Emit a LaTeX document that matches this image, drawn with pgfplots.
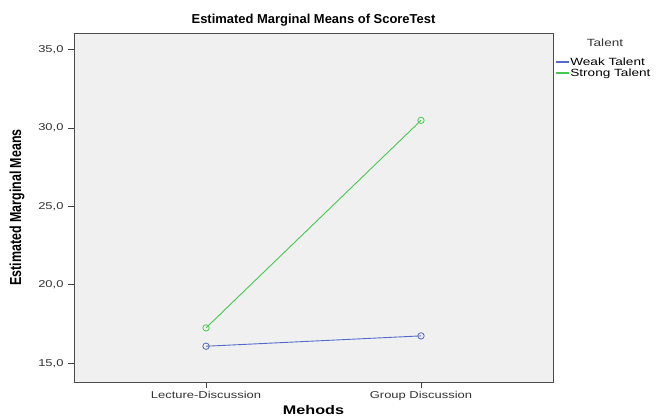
\documentclass[border=0pt]{standalone}
\usepackage{pgfplots}
\pgfplotsset{compat=1.18}
\usepackage{fontspec}
\setmainfont{Liberation Sans}
\newfontfamily\widefont[FakeStretch=1.3]{Liberation Sans}
\definecolor{weakc}{RGB}{85,105,200}
\definecolor{strongc}{RGB}{70,200,80}
\definecolor{bgc}{RGB}{240,240,240}
\definecolor{tickc}{RGB}{50,50,50}
\begin{document}
\begin{tikzpicture}[x=1bp,y=1bp]
\useasboundingbox (0,0) rectangle (657,419);
\begin{axis}[
  name=ax,
  at={(74bp,37bp)}, anchor=south west,
  scale only axis, width=479bp, height=349bp,
  xmin=0.386, xmax=2.614, ymin=13.8, ymax=36.05,
  xtick={1,2}, xticklabels={Lecture-Discussion,Group Discussion},
  ytick={15,20,25,30,35},
  yticklabel={\pgfmathprintnumber[fixed,fixed zerofill,precision=1,use comma]{\tick}},
  /pgf/number format/assume math mode=true,
  tick align=outside, tick pos=left,
  major tick length=6bp,
  tick style={draw=black!75, line width=0.6pt},
  ticklabel style={font=\widefont\fontsize{10}{12}\selectfont, text=tickc},
  yticklabel style={xshift=-1bp},
  axis background/.style={fill=bgc},
  axis line style={draw=black!70, line width=0.8pt},
  title={\bfseries Estimated Marginal Means of ScoreTest},
  title style={font=\fontsize{13}{15}\selectfont, at={(rel axis cs:0.5,1)}, anchor=south, yshift=-2.5bp},
  xlabel={\bfseries Mehods},
  xlabel style={font=\widefont\fontsize{12.5}{14}\selectfont, at={(rel axis cs:0.5,0)}, anchor=north, yshift=-20bp},
  ylabel={\scalebox{1}[1.28]{\fontsize{12.5}{14}\selectfont\bfseries Estimated Marginal Means}},
  ylabel style={at={(rel axis cs:0,0.5)}, anchor=south, yshift=46bp},
  legend style={at={(rel axis cs:1,1)}, anchor=north west, draw=none, fill=none,
    font=\widefont\fontsize{10.5}{11}\selectfont, row sep=0bp, inner xsep=0bp, inner ysep=0bp,
    xshift=1.5bp, yshift=-24bp,
    nodes={text height=7bp, text depth=2bp, inner ysep=1bp, inner xsep=0.6bp}},
  legend cell align=left,
]
\addplot[color=weakc, line width=0.9pt, mark=o, mark size=3.2bp, mark options={line width=0.8pt}, forget plot]
  coordinates {(1,16.08) (2,16.74)};
\addplot[color=strongc, line width=0.9pt, mark=o, mark size=3.2bp, mark options={line width=0.8pt}, forget plot]
  coordinates {(1,17.25) (2,30.48)};
\addlegendimage{legend image code/.code={\draw[draw=weakc, line width=2bp] (-1bp,0.5bp) -- (12bp,0.5bp);}}
\addlegendentry{Weak Talent}
\addlegendimage{legend image code/.code={\draw[draw=strongc, line width=2bp] (-1bp,0.5bp) -- (12bp,0.5bp);}}
\addlegendentry{Strong Talent}
\end{axis}
\node[font=\widefont\fontsize{10.5}{12}\selectfont, text=tickc, inner sep=0pt] at (ax.north east) [xshift=52bp, yshift=-10bp] {Talent};
\end{tikzpicture}
\end{document}
